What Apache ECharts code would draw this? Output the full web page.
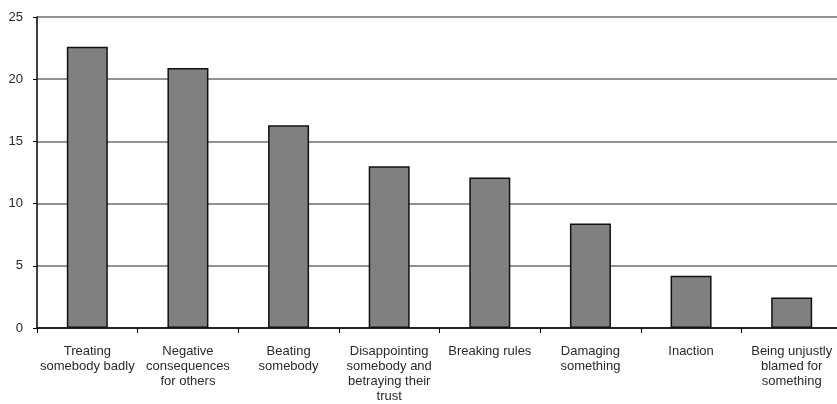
<!DOCTYPE html>
<html><head><meta charset="utf-8">
<script src="https://cdn.jsdelivr.net/npm/echarts@6/dist/echarts.min.js"></script>
<style>html,body{margin:0;padding:0;background:#fff;overflow:hidden;width:837px;height:404px}#c{width:842px;height:404px}</style>
</head><body><div id="c"></div>
<script>
var categories = [
  "Treating\nsomebody badly",
  "Negative\nconsequences\nfor others",
  "Beating\nsomebody",
  "Disappointing\nsomebody and\nbetraying their\ntrust",
  "Breaking rules",
  "Damaging\nsomething",
  "Inaction",
  "Being unjustly\nblamed for\nsomething"
];
var values = [22.6, 20.9, 16.3, 13.0, 12.1, 8.4, 4.2, 2.45];
var yTicks = {min: 0, max: 25, interval: 5};

var chart = echarts.init(document.getElementById('c'), null, {renderer: 'canvas', width: 842, height: 404});
chart.setOption({
  animation: false,
  backgroundColor: '#ffffff',
  grid: {left: 37, top: 17, bottom: 74, right: 0, containLabel: false},
  xAxis: {
    type: 'category',
    data: categories,
    axisLine: {show: true, lineStyle: {color: '#000', width: 1.5}},
    axisTick: {show: true, length: 5, alignWithLabel: false, lineStyle: {color: '#000'}},
    axisLabel: {color: '#2a2a2a', fontFamily: 'Liberation Sans, Arial', fontSize: 13, lineHeight: 15, margin: 16, interval: 0}
  },
  yAxis: {
    type: 'value',
    min: yTicks.min, max: yTicks.max, interval: yTicks.interval,
    axisLine: {show: true, lineStyle: {color: '#000', width: 1.5}},
    axisTick: {show: true, length: 4, lineStyle: {color: '#000'}},
    axisLabel: {color: '#2a2a2a', fontFamily: 'Liberation Sans, Arial', fontSize: 13, margin: 14},
    splitLine: {show: true, lineStyle: {color: '#6e6e6e', width: 1.5}}
  },
  series: [{
    type: 'bar',
    data: values,
    barWidth: 41,
    itemStyle: {color: '#808080', borderColor: '#111', borderWidth: 1.5}
  }]
});
</script></body></html>
